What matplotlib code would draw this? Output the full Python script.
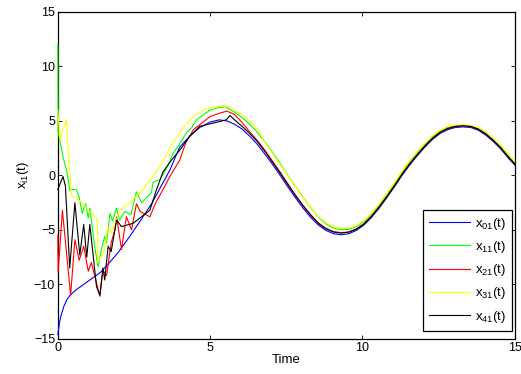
import matplotlib
matplotlib.use("Agg")
import matplotlib.pyplot as plt

plt.rcParams['font.family'] = ['Liberation Sans', 'DejaVu Sans']
plt.rcParams['mathtext.default'] = 'regular'

# transient part of each trajectory (time, value)
t0_early = [0, 0.05, 0.1, 0.2, 0.3, 0.4, 0.6, 0.8, 1.0, 1.2, 1.4, 1.7, 2.0, 2.36, 2.7,
            3.1, 3.35, 3.68, 4.0, 4.33, 4.66, 5.0, 5.3, 5.55]
x0_early = [-14.6, -13.6, -12.9, -12.0, -11.4, -11.0, -10.5, -10.1, -9.7, -9.3, -8.9, -8.0,
            -7.0, -5.6, -4.2, -2.5, -1.2, 0.5, 2.6, 3.6, 4.4, 4.9, 5.1, 5.0]

t1_early = [0, 0.01, 0.08, 0.17, 0.3, 0.39, 0.61, 0.7, 0.8, 0.91, 1.0, 1.05, 1.21, 1.32,
            1.43, 1.54, 1.6, 1.71, 1.8, 1.92, 2.03, 2.2, 2.4, 2.58, 2.75, 3.07, 3.13, 3.35,
            3.6, 3.78, 4.0, 4.22, 4.4, 4.55, 4.8, 5.0, 5.25, 5.5]
x1_early = [12.0, 4.0, 3.0, 1.7, 0.3, -1.3, -1.3, -2.0, -3.5, -2.6, -3.9, -3.0, -6.5, -8.4,
            -6.8, -5.6, -6.2, -3.5, -4.2, -3.0, -4.1, -3.3, -3.6, -1.5, -2.5, -1.6, -0.6, -0.4,
            0.8, 2.0, 2.9, 3.9, 4.4, 5.1, 5.6, 6.0, 6.2, 6.3]

t2_early = [0, 0.01, 0.15, 0.42, 0.56, 0.7, 0.85, 1.0, 1.1, 1.38, 1.48, 1.6, 1.75, 1.87,
            1.93, 2.09, 2.25, 2.42, 2.58, 2.7, 3.02, 3.2, 3.45, 3.68, 4.0, 4.2, 4.45, 5.0,
            5.3, 5.55]
x2_early = [-5.5, -8.9, -3.2, -11.0, -5.9, -7.8, -6.5, -8.8, -8.0, -11.1, -8.7, -9.2, -6.2,
            -5.0, -3.8, -6.8, -3.8, -5.0, -2.6, -3.3, -3.8, -2.6, -1.3, -0.1, 1.4, 3.0, 4.2,
            5.4, 5.7, 5.9]

t3_early = [0, 0.07, 0.28, 0.36, 0.45, 0.56, 0.75, 1.3, 1.31, 1.54, 1.64, 1.75, 1.92, 2.03,
            2.36, 2.8, 3.12, 3.35, 3.78, 4.1, 4.43, 4.8, 5.1, 5.4, 5.65]
x3_early = [6.0, 3.3, 5.1, 1.4, -1.9, -2.0, -2.4, -4.1, -8.0, -6.8, -4.7, -5.3, -4.1, -3.2,
            -2.5, -1.3, -0.1, 0.8, 3.0, 4.3, 5.4, 6.0, 6.3, 6.35, 6.3]

t4_early = [0, 0.17, 0.25, 0.39, 0.56, 0.72, 0.85, 0.95, 1.05, 1.27, 1.38, 1.48, 1.54, 1.65,
            1.75, 1.93, 2.09, 2.47, 3.02, 3.24, 3.45, 3.7, 4.0, 4.33, 4.66, 5.1, 5.53, 5.65]
x4_early = [-1.3, -0.1, -1.0, -8.5, -2.5, -7.3, -4.5, -7.5, -4.5, -10.2, -11.0, -8.5, -9.6,
            -6.5, -7.0, -4.1, -4.7, -4.4, -3.2, -1.3, 0.3, 1.3, 2.3, 3.6, 4.5, 4.8, 5.1, 5.5]

# after the transient, all trajectories follow the oscillation
t_late = [5.8, 6.05, 6.3, 6.55, 6.8, 7.05, 7.3, 7.55, 7.8, 8.05, 8.3, 8.55, 8.8, 9.05, 9.3,
          9.55, 9.8, 10.05, 10.3, 10.55, 10.8, 11.05, 11.3, 11.55, 11.8, 12.05, 12.3, 12.55,
          12.8, 13.05, 13.3, 13.55, 13.8, 14.05, 14.3, 14.55, 14.8, 15.0]
x0_late = [4.7, 4.25, 3.6, 2.85, 1.95, 1.0, 0.0, -1.05, -2.05, -3.0, -3.85, -4.55, -5.05,
           -5.35, -5.45, -5.35, -5.05, -4.55, -3.85, -3.0, -2.05, -1.05, 0.0, 0.95, 1.8, 2.6,
           3.3, 3.85, 4.2, 4.4, 4.45, 4.4, 4.15, 3.7, 3.1, 2.4, 1.55, 0.95]
x1_late = [5.8, 5.3, 4.7, 3.95, 3.05, 2.1, 1.1, 0.0, -1.0, -2.0, -2.95, -3.8, -4.45, -4.85,
           -5.0, -4.95, -4.7, -4.25, -3.55, -2.7, -1.75, -0.75, 0.3, 1.25, 2.1, 2.85, 3.55,
           4.05, 4.4, 4.55, 4.6, 4.55, 4.3, 3.85, 3.25, 2.55, 1.75, 1.15]
x2_late = [5.6, 4.85, 4.0, 3.2, 2.3, 1.3, 0.3, -0.75, -1.8, -2.75, -3.6, -4.35, -4.85, -5.15,
           -5.25, -5.2, -4.9, -4.45, -3.75, -2.9, -1.95, -0.95, 0.1, 1.05, 1.9, 2.7, 3.4,
           3.95, 4.3, 4.5, 4.55, 4.5, 4.25, 3.8, 3.2, 2.5, 1.65, 1.05]
x3_late = [6.0, 5.55, 5.0, 4.3, 3.0, 2.0, 1.0, 0.0, -1.0, -2.0, -2.95, -3.75, -4.35, -4.7,
           -4.85, -4.85, -4.6, -4.15, -3.45, -2.6, -1.65, -0.65, 0.4, 1.35, 2.2, 2.95, 3.65,
           4.15, 4.5, 4.62, 4.65, 4.6, 4.4, 4.0, 3.45, 2.75, 1.95, 1.3]
x4_late = [5.1, 4.5, 3.85, 3.1, 2.2, 1.2, 0.2, -0.85, -1.85, -2.8, -3.65, -4.4, -4.9, -5.2,
           -5.3, -5.2, -4.95, -4.45, -3.75, -2.9, -1.95, -0.95, 0.1, 1.05, 1.9, 2.7, 3.4,
           3.95, 4.3, 4.5, 4.55, 4.5, 4.25, 3.8, 3.2, 2.5, 1.65, 1.05]

labels = ['x$_{01}$(t)', 'x$_{11}$(t)', 'x$_{21}$(t)', 'x$_{31}$(t)', 'x$_{41}$(t)']
colors = ['#0000ff', '#00ff00', '#ff0000', '#ffff00', '#000000']

series = [(t0_early, x0_early, x0_late), (t1_early, x1_early, x1_late),
          (t2_early, x2_early, x2_late), (t3_early, x3_early, x3_late),
          (t4_early, x4_early, x4_late)]

fig = plt.figure(figsize=(5.21, 3.74), dpi=100)
ax = fig.add_axes([0.111, 0.094, 0.877, 0.874])

for (te, xe, xl), lab, col in zip(series, labels, colors):
    ax.plot(te + t_late, xe + xl, color=col, lw=0.8, label=lab, zorder=3, clip_on=False)

ax.set_xlim(0, 15)
ax.set_ylim(-15, 15)
ax.set_xticks([0, 5, 10, 15])
ax.set_yticks([-15, -10, -5, 0, 5, 10, 15])
ax.tick_params(direction='in', top=True, right=True, length=3, width=0.6,
               labelsize=9, pad=2)
for sp in ax.spines.values():
    sp.set_linewidth(0.9)

ax.set_xlabel('Time', fontsize=9.5, labelpad=0)
ax.set_ylabel('x$_{i1}$(t)', fontsize=9.5, labelpad=2)

leg = ax.legend(loc='lower right', bbox_to_anchor=(0.995, 0.025), fontsize=9.5,
                fancybox=False, framealpha=1, edgecolor='black', handlelength=3.1,
                borderpad=0.45, labelspacing=0.55, handletextpad=0.4, borderaxespad=0)
leg.get_frame().set_linewidth(0.9)
leg.set_zorder(5)

fig.savefig('out.png', dpi=100)
